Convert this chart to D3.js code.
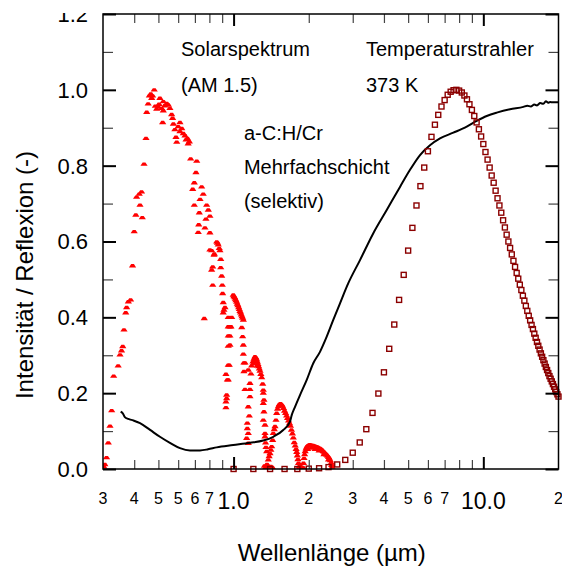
<!DOCTYPE html>
<html><head><meta charset="utf-8">
<script src="https://cdn.jsdelivr.net/npm/d3@7"></script>
<style>
body{margin:0;background:#fff;}
svg{display:block;}
text{font-family:"Liberation Sans",Arial,Helvetica,sans-serif;fill:#000;}
</style>
</head><body>
<svg id="chart" width="562" height="567"></svg>
<script>
// ---------------- DATA ----------------
// Solar spectrum AM 1.5 (normalized), [wavelength µm, intensity]
const solarSpectrum = [
[0.302,0.006],[0.305,0.012],[0.310,0.030],[0.315,0.069],[0.320,0.113],[0.325,0.154],[0.331,0.245],
[0.345,0.272],[0.351,0.301],[0.356,0.312],[0.360,0.323],[0.364,0.367],[0.370,0.412],[0.373,0.426],
[0.379,0.441],[0.387,0.446],[0.394,0.536],[0.400,0.626],[0.406,0.670],[0.431,0.663],
[0.409,0.717],[0.419,0.725],[0.428,0.731],[0.422,0.696],[0.438,0.804],[0.446,0.872],[0.449,0.941],
[0.455,0.963],[0.460,0.984],[0.466,0.989],[0.470,0.978],[0.474,0.984],[0.481,1.000],[0.492,0.949],
[0.499,0.955],[0.507,0.978],[0.520,0.914],[0.523,0.969],[0.523,0.945],[0.540,0.964],[0.548,0.960],
[0.556,0.951],[0.565,0.935],[0.570,0.925],[0.574,0.910],[0.588,0.875],[0.592,0.862],[0.600,0.903],
[0.610,0.914],[0.610,0.890],[0.620,0.898],[0.629,0.885],[0.639,0.879],[0.653,0.872],[0.665,0.863],
[0.486,0.957],[0.503,0.962],[0.515,0.951],[0.530,0.958],[0.582,0.895],[0.645,0.868],[0.658,0.858],
[0.673,0.818],[0.712,0.812],[0.707,0.782],[0.696,0.755],[0.745,0.744],[0.686,0.738],[0.756,0.725],
[0.734,0.711],[0.696,0.696],[0.780,0.696],[0.729,0.676],[0.792,0.683],[0.804,0.667],[0.775,0.659],
[0.725,0.644],[0.768,0.636],[0.722,0.624],[0.804,0.623],
[0.856,0.599],[0.862,0.596],[0.868,0.591],[0.876,0.582],[0.882,0.576],[0.817,0.576],[0.804,0.578],
[0.837,0.567],[0.835,0.564],[0.888,0.553],[0.825,0.533],[0.888,0.531],[0.817,0.525],[0.896,0.509],
[0.825,0.485],[0.901,0.485],[0.904,0.463],[0.909,0.439],[0.924,0.426],[0.915,0.419],[0.909,0.412],
[0.763,0.397],[0.952,0.400],[0.952,0.375],[0.952,0.351],[0.952,0.324],[0.952,0.274],[0.952,0.235],
[0.967,0.375],[0.967,0.351],[0.967,0.327],[0.961,0.274],[0.932,0.250],[0.944,0.235],
[0.938,0.195],[0.938,0.186],[0.932,0.177],[0.932,0.162],[0.976,0.375],[0.983,0.400],
[0.997,0.459],[1.003,0.455],[1.010,0.452],[1.016,0.448],[1.022,0.444],[1.029,0.440],[1.035,0.435],
[1.041,0.431],[1.048,0.426],[1.054,0.421],[1.061,0.416],[1.067,0.412],[1.074,0.407],[1.081,0.402],
[1.087,0.398],[1.094,0.393],
[1.078,0.373],[1.087,0.349],[1.094,0.327],[1.094,0.303],[1.100,0.280],[1.111,0.280],[1.100,0.257],
[1.111,0.210],[1.163,0.210],[1.163,0.191],[1.145,0.164],[1.156,0.140],[1.135,0.121],[1.135,0.107],
[1.145,0.094],[1.128,0.081],[1.145,0.068],[1.174,0.251],[1.145,0.261],[1.163,0.226],
[1.181,0.272],[1.196,0.283],[1.207,0.290],[1.218,0.296],[1.228,0.293],[1.237,0.288],[1.245,0.282],
[1.252,0.276],[1.260,0.270],[1.268,0.264],[1.276,0.258],[1.286,0.250],[1.200,0.278],[1.215,0.286],
[1.230,0.283],[1.245,0.272],
[1.296,0.241],[1.308,0.224],[1.315,0.208],[1.315,0.200],[1.323,0.182],[1.315,0.173],[1.323,0.151],
[1.315,0.129],[1.336,0.116],[1.336,0.094],[1.336,0.085],[1.343,0.069],[1.348,0.057],[1.357,0.046],
[1.330,0.008],[1.345,0.004],[1.360,0.012],[1.372,0.006],[1.390,0.004],[1.410,0.007],[1.430,0.004],
[1.365,0.010],[1.377,0.024],[1.388,0.033],[1.399,0.041],[1.410,0.050],[1.421,0.059],[1.434,0.076],
[1.442,0.094],[1.455,0.104],[1.465,0.112],[1.478,0.129],[1.488,0.147],[1.500,0.158],[1.512,0.165],
[1.525,0.170],[1.540,0.172],[1.555,0.170],[1.570,0.166],[1.585,0.160],[1.600,0.153],[1.615,0.147],
[1.630,0.140],[1.645,0.134],[1.660,0.127],[1.675,0.120],[1.690,0.113],[1.705,0.103],[1.720,0.093],
[1.735,0.082],[1.750,0.070],[1.765,0.061],[1.780,0.052],[1.790,0.044],[1.800,0.035],[1.810,0.025],
[1.820,0.015],[1.830,0.006],[1.840,0.004],[1.860,0.006],[1.880,0.003],
[1.895,0.004],[1.905,0.015],[1.915,0.028],[1.925,0.038],[1.935,0.046],[1.950,0.053],[1.965,0.058],
[1.980,0.061],[2.000,0.063],[2.020,0.064],[2.040,0.063],[2.060,0.062],[2.080,0.062],[2.100,0.061],
[2.120,0.060],[2.140,0.059],[2.160,0.058],[2.180,0.057],[2.200,0.055],[2.220,0.054],[2.240,0.052],
[2.260,0.050],[2.280,0.047],[2.300,0.045],[2.320,0.042],[2.340,0.040],[2.360,0.037],[2.380,0.034],
[2.400,0.031],[2.420,0.027],[2.440,0.022],[2.460,0.016],[2.470,0.010],[2.480,0.005],
[1.980,0.052],[2.050,0.055],[2.120,0.052],[2.200,0.048],[2.300,0.038],[2.400,0.024]
];

// Reflection of a-C:H/Cr multilayer, [wavelength µm, reflection]
const reflection = [
[0.353,0.151],[0.360,0.147],[0.367,0.137],[0.379,0.132],[0.397,0.128],[0.422,0.121],[0.463,0.103],
[0.507,0.085],[0.556,0.069],[0.610,0.055],[0.669,0.049],[0.734,0.049],[0.790,0.052],[0.856,0.057],
[0.997,0.063],[1.163,0.069],[1.315,0.075],[1.442,0.085],[1.581,0.103],[1.682,0.125],[1.709,0.142],
[1.762,0.164],[1.845,0.195],[1.963,0.235],[2.085,0.279],[2.218,0.309],[2.360,0.349],[2.507,0.393],
[2.668,0.437],[2.880,0.490],[3.208,0.551],[3.627,0.622],[4.104,0.683],[4.638,0.744],[5.088,0.789],
[5.579,0.828],[6.116,0.854],[6.708,0.872],[7.585,0.887],[8.582,0.903],[9.409,0.918],[10.32,0.931],
[11.32,0.940],[12.79,0.949],[14.46,0.955],[15.0,0.958],[15.5,0.956],[16.0,0.961],[16.4,0.959],
[16.9,0.965],[17.4,0.963],[17.8,0.970],[18.2,0.966],[18.5,0.968],[19.0,0.967],[20.0,0.967]
];

// Blackbody radiator 373 K (normalized), [wavelength µm, intensity]
const blackbody = [
[1.0,0.000],[1.2,0.000],[1.4,0.000],[1.6,0.000],[1.8,0.000],[2.0,0.001],[2.2,0.002],[2.4,0.005],
[2.6,0.012],[2.8,0.024],[3.0,0.043],[3.2,0.070],[3.4,0.105],[3.6,0.148],[3.8,0.199],[4.0,0.255],
[4.2,0.317],[4.4,0.381],[4.6,0.446],[4.8,0.512],[5.0,0.576],[5.2,0.636],[5.4,0.695],[5.6,0.746],
[5.8,0.795],[6.0,0.838],[6.2,0.876],[6.4,0.908],[6.6,0.934],[6.8,0.956],[7.0,0.973],[7.2,0.987],
[7.4,0.995],[7.6,0.999],[7.8,1.000],[8.0,0.998],[8.2,0.993],[8.4,0.985],[8.6,0.975],[8.8,0.962],
[9.0,0.947],[9.2,0.931],[9.4,0.914],[9.6,0.896],[9.8,0.877],[10.0,0.857],[10.2,0.836],[10.4,0.816],
[10.6,0.795],[10.8,0.774],[11.0,0.755],[11.2,0.734],[11.4,0.714],[11.6,0.695],[11.8,0.676],[12.0,0.656],
[12.2,0.637],[12.4,0.618],[12.6,0.600],[12.8,0.583],[13.0,0.566],[13.2,0.549],[13.4,0.533],[13.6,0.517],
[13.8,0.502],[14.0,0.486],[14.2,0.472],[14.4,0.457],[14.6,0.444],[14.8,0.430],[15.0,0.417],[15.2,0.404],
[15.4,0.392],[15.6,0.380],[15.8,0.369],[16.0,0.357],[16.2,0.346],[16.4,0.335],[16.6,0.325],[16.8,0.315],
[17.0,0.305],[17.2,0.296],[17.4,0.287],[17.6,0.278],[17.8,0.269],[18.0,0.261],[18.2,0.253],[18.4,0.245],
[18.6,0.238],[18.8,0.231],[19.0,0.224],[19.2,0.217],[19.4,0.210],[19.6,0.203],[19.8,0.197],[20.0,0.191]
];

// Axis ticks and labels
const xTickValues = [0.3,0.4,0.5,0.6,0.7,0.8,1,2,3,4,5,6,7,10,20];
const xTickLabels = ["3","4","5","5","6","7","1.0","2","3","4","5","6","7","10.0","2"];
const xMajorTicks = [1,10];
const xMinorTicks = [0.4,0.5,0.6,0.7,0.8,0.9,2,3,4,5,6,7,8,9];
const yMajorTicks = [0,0.2,0.4,0.6,0.8,1.0,1.2];
const yMinorTicks = [0.1,0.3,0.5,0.7,0.9,1.1];
const yTickLabels = ["0.0","0.2","0.4","0.6","0.8","1.0","1.2"];

const annotations = [
  {text:"Solarspektrum", x:0.616, y:1.09},
  {text:"(AM 1.5)", x:0.616, y:0.995},
  {text:"Temperaturstrahler", x:3.39, y:1.09},
  {text:"373 K", x:3.39, y:0.995},
  {text:"a-C:H/Cr", x:1.10, y:0.868},
  {text:"Mehrfachschicht", x:1.10, y:0.778},
  {text:"(selektiv)", x:1.10, y:0.688}
];

// ---------------- CHART ----------------
const svg = d3.select("#chart");
const L = 103, R = 558.5, T = 14, B = 469;
const x = d3.scaleLog().domain([0.3,20]).range([L,R]);
const y = d3.scaleLinear().domain([0,1.2]).range([B,T]);

svg.append("clipPath").attr("id","plotclip").append("rect")
  .attr("x",L).attr("y",T).attr("width",R-L).attr("height",B-T);
svg.append("clipPath").attr("id","labclip").append("rect")
  .attr("x",0).attr("y",13).attr("width",562).attr("height",567);

const plot = svg.append("g").attr("clip-path","url(#plotclip)");

// Solar spectrum markers
plot.append("g").selectAll("path").data(solarSpectrum).join("path")
  .attr("transform", d => `translate(${x(d[0])},${y(d[1])})`)
  .attr("d","M-3.6,1.7L3.6,1.7L1.4,-1.7L-1.4,-1.7Z")
  .attr("fill","#ff0000");

// Reflection line
plot.append("path").datum(reflection)
  .attr("fill","none").attr("stroke","#000").attr("stroke-width",2)
  .attr("stroke-linejoin","round")
  .attr("d", d3.line().x(d=>x(d[0])).y(d=>y(d[1])).curve(d3.curveMonotoneX));

// Blackbody squares
svg.append("g").selectAll("rect").data(blackbody).join("rect")
  .attr("x", d => x(d[0]) - 2.5).attr("y", d => y(d[1]) - 2.5)
  .attr("width",5).attr("height",5)
  .attr("fill","none").attr("stroke","#8b0000").attr("stroke-width",1.4);

// Axes ticks (inward, mirrored)
function styleAxis(g, w, col){
  g.select(".domain").remove();
  g.selectAll(".tick line").attr("stroke",col).attr("stroke-width",w);
  g.selectAll(".tick text").remove();
}
svg.append("g").attr("transform",`translate(0,${B})`)
  .call(d3.axisBottom(x).tickValues(xMinorTicks).tickSize(-9).tickFormat(""))
  .call(g=>styleAxis(g,1.2,"#444"));
svg.append("g").attr("transform",`translate(0,${B})`)
  .call(d3.axisBottom(x).tickValues(xMajorTicks).tickSize(-12).tickFormat(""))
  .call(g=>styleAxis(g,2,"#000"));
svg.append("g").attr("transform",`translate(0,${T})`)
  .call(d3.axisTop(x).tickValues(xMinorTicks).tickSize(-9).tickFormat(""))
  .call(g=>styleAxis(g,1.2,"#444"));
svg.append("g").attr("transform",`translate(0,${T})`)
  .call(d3.axisTop(x).tickValues(xMajorTicks).tickSize(-12).tickFormat(""))
  .call(g=>styleAxis(g,2,"#000"));
svg.append("g").attr("transform",`translate(${L},0)`)
  .call(d3.axisLeft(y).tickValues(yMinorTicks).tickSize(-10).tickFormat(""))
  .call(g=>styleAxis(g,1.2,"#444"));
svg.append("g").attr("transform",`translate(${L},0)`)
  .call(d3.axisLeft(y).tickValues(yMajorTicks).tickSize(-13).tickFormat(""))
  .call(g=>styleAxis(g,2,"#000"));
svg.append("g").attr("transform",`translate(${R},0)`)
  .call(d3.axisRight(y).tickValues(yMinorTicks).tickSize(-10).tickFormat(""))
  .call(g=>styleAxis(g,1.2,"#444"));
svg.append("g").attr("transform",`translate(${R},0)`)
  .call(d3.axisRight(y).tickValues(yMajorTicks).tickSize(-13).tickFormat(""))
  .call(g=>styleAxis(g,2,"#000"));

// Frame
svg.append("rect").attr("x",L).attr("y",T).attr("width",R-L).attr("height",B-T)
  .attr("fill","none").attr("stroke","#000").attr("stroke-width",1.5);

// Y tick labels
svg.append("g").attr("clip-path","url(#labclip)").selectAll("text").data(yMajorTicks).join("text")
  .attr("x",88).attr("y",d=>y(d)).attr("dy","0.36em")
  .attr("text-anchor","end").attr("font-size",22)
  .text((d,i)=>yTickLabels[i]);

// X tick labels
svg.append("g").selectAll("text").data(xTickValues).join("text")
  .attr("x",d=>x(d))
  .attr("y",(d,i)=> (xTickLabels[i].includes(".") ? 509 : 503.5))
  .attr("text-anchor","middle")
  .attr("font-size",(d,i)=> xTickLabels[i].includes(".") ? 23 : 16)
  .text((d,i)=>xTickLabels[i]);

// Axis titles
svg.append("text").attr("x",(L+R)/2 + 1).attr("y",561)
  .attr("text-anchor","middle").attr("font-size",24)
  .text("Wellenlänge (µm)");
svg.append("text").attr("transform","translate(33,275) rotate(-90)")
  .attr("text-anchor","middle").attr("font-size",24)
  .text("Intensität / Reflexion (-)");

// Annotations
svg.append("g").selectAll("text").data(annotations).join("text")
  .attr("x",d=>x(d.x)).attr("y",d=>y(d.y))
  .attr("font-size",20)
  .text(d=>d.text);
</script>
</body></html>
